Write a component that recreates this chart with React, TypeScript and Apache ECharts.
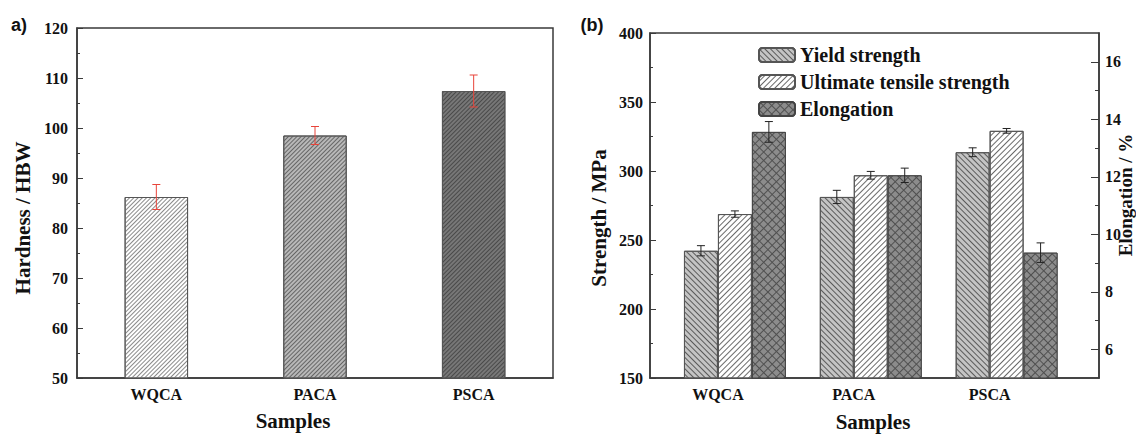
import React, { useEffect, useRef } from "react";
import * as echarts from "echarts";

const categories = ["WQCA", "PACA", "PSCA"];
const hardness = [86.2, 98.5, 107.4];
const hardnessErr = [2.5, 1.8, 3.2];

const yieldStrength = [242.2, 281.2, 313.6];
const yieldErr = [3.7, 4.8, 3.2];
const uts = [268.8, 296.9, 329.1];
const utsErr = [2.3, 2.8, 1.7];
const elongation = [13.56, 12.05, 9.36];
const elongErr = [0.36, 0.25, 0.34];

const hardnessTicks = { min: 50, max: 120, interval: 10 };
const strengthTicks = { min: 150, max: 400, interval: 50 };
const elongTicks = [6, 8, 10, 12, 14, 16];
const elongMinorTicks = [7, 9, 11, 13, 15];

const SERIF = "'Liberation Serif', 'Times New Roman', serif";
const SANS = "'Liberation Sans', Arial, sans-serif";
const AX = "#3a3a3a";

const hatch = (color: string, w: number, gap: number, rot: number) => ({
  symbol: "rect",
  symbolSize: 1,
  color,
  dashArrayX: [1, 0],
  dashArrayY: [w, gap],
  rotation: rot,
});

const SLASH = -Math.PI / 4; // "/" lines
const BACK = Math.PI / 4; // "\" lines

const leftStyles = [
  { color: "#ffffff", decal: hatch("#8a8a8a", 1, 2, SLASH) },
  { color: "#b8b8b8", decal: hatch("#666666", 1, 2, SLASH) },
  { color: "#777777", decal: hatch("#4a4a4a", 1, 2, SLASH) },
];

const BAR_W = 0.25; // width of one bar in the right chart, in axis units
const LABEL_SHIFT = -0.125; // sample label sits between first and second bar

function errorSeries(
  name: string,
  vals: number[],
  errs: number[],
  xs: number[],
  color: string,
  xAxisIndex: number,
  yAxisIndex: number
) {
  return {
    name,
    type: "custom",
    xAxisIndex,
    yAxisIndex,
    silent: true,
    z: 10,
    data: vals.map((v, i) => [xs[i], v, errs[i]]),
    renderItem: (_p: any, api: any) => {
      const x = api.value(0);
      const y = api.value(1);
      const e = api.value(2);
      const t = api.coord([x, y + e]);
      const b = api.coord([x, y - e]);
      const cw = 4;
      const st = { stroke: color, lineWidth: 1 };
      return {
        type: "group",
        children: [
          { type: "line", shape: { x1: t[0], y1: t[1], x2: b[0], y2: b[1] }, style: st },
          { type: "line", shape: { x1: t[0] - cw, y1: t[1], x2: t[0] + cw, y2: t[1] }, style: st },
          { type: "line", shape: { x1: b[0] - cw, y1: b[1], x2: b[0] + cw, y2: b[1] }, style: st },
        ],
      };
    },
  };
}

export default function App() {
  const ref = useRef<HTMLDivElement>(null);
  useEffect(() => {
    if (!ref.current) return;
    const chart = echarts.init(ref.current, null, { renderer: "svg" });

    const idx = categories.map((_, i) => i + 1);
    const xYield = idx.map((i) => i - BAR_W);
    const xUts = idx.map((i) => i);
    const xElong = idx.map((i) => i + BAR_W);
    const labelPos = idx.map((i) => i + LABEL_SHIFT);

    const tickLabel = {
      fontFamily: SERIF,
      fontWeight: "bold",
      fontSize: 16,
      color: "#111",
    };
    const axisLine = { show: true, onZero: false, lineStyle: { color: AX, width: 1.5 } };

    const barBase = {
      type: "bar",
      xAxisIndex: 1,
      barWidth: "100%",
      barGap: "-100%",
    };

    const option: any = {
      animation: false,
      grid: [
        { left: 77, top: 28, width: 476, height: 350, show: true, borderColor: AX, borderWidth: 1.5, backgroundColor: "transparent" },
        { left: 650, top: 33, width: 449, height: 345, show: true, borderColor: AX, borderWidth: 1.5, backgroundColor: "transparent" },
      ],
      legend: {
        data: ["Yield strength", "Ultimate tensile strength", "Elongation"],
        orient: "vertical",
        left: 753,
        top: 40,
        itemWidth: 36,
        itemHeight: 14,
        itemGap: 7,
        selectedMode: false,
        textStyle: { fontFamily: SERIF, fontWeight: "bold", fontSize: 20, color: "#111" },
      },
      xAxis: [
        {
          type: "category",
          gridIndex: 0,
          data: categories,
          axisLine,
          axisTick: { show: true, inside: true, alignWithLabel: true, length: 6, lineStyle: { color: AX } },
          axisLabel: { ...tickLabel, margin: 8 },
          splitLine: { show: false },
        },
        {
          type: "value",
          gridIndex: 1,
          min: 0.375,
          max: 3.68,
          axisLine,
          axisTick: { show: true, inside: true, length: 5, customValues: labelPos, lineStyle: { color: AX } },
          axisLabel: {
            ...tickLabel,
            margin: 8,
            customValues: labelPos,
            formatter: (v: number) => categories[Math.round(v - 1 - LABEL_SHIFT)] ?? "",
          },
          splitLine: { show: false },
        },
      ],
      yAxis: [
        {
          type: "value",
          gridIndex: 0,
          ...hardnessTicks,
          axisLine,
          axisTick: { show: true, inside: true, length: 6, lineStyle: { color: AX } },
          minorTick: { show: true, splitNumber: 2, length: 3, lineStyle: { color: AX } },
          axisLabel: { ...tickLabel, margin: 9 },
          splitLine: { show: false },
        },
        {
          type: "value",
          gridIndex: 1,
          position: "left",
          ...strengthTicks,
          axisLine,
          axisTick: { show: true, inside: true, length: 6, lineStyle: { color: AX } },
          minorTick: { show: true, splitNumber: 2, length: 3, lineStyle: { color: AX } },
          axisLabel: { ...tickLabel, margin: 7 },
          splitLine: { show: false },
        },
        {
          type: "value",
          gridIndex: 1,
          position: "right",
          min: 5,
          max: 17,
          axisLine,
          axisTick: { show: true, inside: true, length: 8, customValues: elongTicks, lineStyle: { color: AX } },
          axisLabel: { ...tickLabel, margin: 6, customValues: elongTicks },
          splitLine: { show: false },
        },
        {
          type: "value",
          gridIndex: 1,
          position: "right",
          min: 5,
          max: 17,
          axisLine: { show: false },
          axisTick: { show: true, inside: true, length: 4, customValues: elongMinorTicks, lineStyle: { color: AX } },
          axisLabel: { show: false },
          splitLine: { show: false },
        },
      ],
      series: [
        {
          name: "Hardness",
          type: "bar",
          xAxisIndex: 0,
          yAxisIndex: 0,
          barWidth: "40%",
          data: hardness.map((v, i) => ({
            value: v,
            itemStyle: { color: leftStyles[i].color, decal: leftStyles[i].decal, borderColor: "#555", borderWidth: 1 },
          })),
        },
        errorSeries("HardnessErr", hardness, hardnessErr, [0, 1, 2], "#e8443a", 0, 0),
        {
          ...barBase,
          name: "Yield strength",
          yAxisIndex: 1,
          data: yieldStrength.map((v, i) => [xYield[i], v]),
          itemStyle: { color: "#c4c4c4", borderColor: "#555", borderWidth: 1, decal: hatch("#5a5a5a", 1, 3, BACK) },
        },
        {
          ...barBase,
          name: "Ultimate tensile strength",
          yAxisIndex: 1,
          data: uts.map((v, i) => [xUts[i], v]),
          itemStyle: { color: "#ffffff", borderColor: "#555", borderWidth: 1, decal: hatch("#6a6a6a", 1, 3, SLASH) },
        },
        {
          ...barBase,
          name: "Elongation",
          yAxisIndex: 2,
          data: elongation.map((v, i) => [xElong[i], v]),
          itemStyle: {
            color: "#505050",
            borderColor: "#444",
            borderWidth: 1,
            decal: { symbol: "rect", symbolSize: 1, color: "#8c8c8c", dashArrayX: [5, 1], dashArrayY: [5, 1], rotation: Math.PI / 4 },
          },
        },
        errorSeries("YieldErr", yieldStrength, yieldErr, xYield, "#222", 1, 1),
        errorSeries("UtsErr", uts, utsErr, xUts, "#222", 1, 1),
        errorSeries("ElongErr", elongation, elongErr, xElong, "#222", 1, 2),
      ],
      graphic: [
        { type: "text", x: 19, y: 25, style: { text: "a)", fontFamily: SANS, fontWeight: "bold", fontSize: 18, fill: "#111", align: "center", verticalAlign: "middle" } },
        { type: "text", x: 592, y: 25, style: { text: "(b)", fontFamily: SANS, fontWeight: "bold", fontSize: 18, fill: "#111", align: "center", verticalAlign: "middle" } },
        { type: "text", x: 23, y: 218, rotation: Math.PI / 2, style: { text: "Hardness / HBW", fontFamily: SERIF, fontWeight: "bold", fontSize: 21, fill: "#111", align: "center", verticalAlign: "middle" } },
        { type: "text", x: 293, y: 421, style: { text: "Samples", fontFamily: SERIF, fontWeight: "bold", fontSize: 21, fill: "#111", align: "center", verticalAlign: "middle" } },
        { type: "text", x: 599, y: 218, rotation: Math.PI / 2, style: { text: "Strength / MPa", fontFamily: SERIF, fontWeight: "bold", fontSize: 21, fill: "#111", align: "center", verticalAlign: "middle" } },
        { type: "text", x: 1125, y: 195, rotation: Math.PI / 2, style: { text: "Elongation / %", fontFamily: SERIF, fontWeight: "bold", fontSize: 19, fill: "#111", align: "center", verticalAlign: "middle" } },
        { type: "text", x: 873, y: 422, style: { text: "Samples", fontFamily: SERIF, fontWeight: "bold", fontSize: 21, fill: "#111", align: "center", verticalAlign: "middle" } },
      ],
    };

    chart.setOption(option);
    return () => chart.dispose();
  }, []);

  return (
    <div
      ref={ref}
      style={{ position: "absolute", left: 0, top: 0, width: 1136, height: 435, background: "#fff" }}
    />
  );
}
